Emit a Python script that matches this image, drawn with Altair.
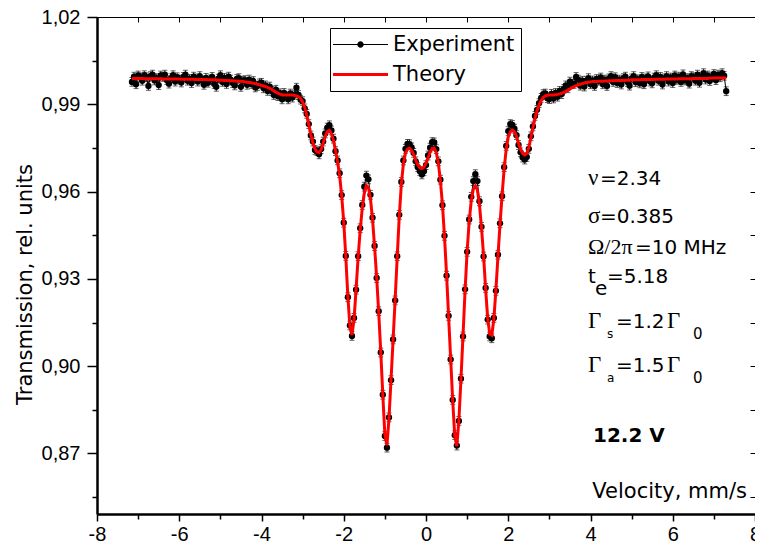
import altair as alt
import pandas as pd

# ---------------- data ----------------
VELOCITY = [
    -7.15, -7.10, -7.05, -7.00, -6.95, -6.90, -6.85, -6.80, -6.75, -6.70,
    -6.65, -6.60, -6.55, -6.50, -6.45, -6.40, -6.35, -6.30, -6.25, -6.20,
    -6.15, -6.10, -6.05, -6.00, -5.95, -5.90, -5.85, -5.80, -5.75, -5.70,
    -5.65, -5.60, -5.55, -5.50, -5.45, -5.40, -5.35, -5.30, -5.25, -5.20,
    -5.15, -5.10, -5.05, -5.00, -4.95, -4.90, -4.85, -4.80, -4.75, -4.70,
    -4.65, -4.60, -4.55, -4.50, -4.45, -4.40, -4.35, -4.30, -4.25, -4.20,
    -4.15, -4.10, -4.05, -4.00, -3.95, -3.90, -3.85, -3.80, -3.75, -3.70,
    -3.65, -3.60, -3.55, -3.50, -3.45, -3.40, -3.35, -3.30, -3.25, -3.20,
    -3.15, -3.10, -3.05, -3.00, -2.95, -2.90, -2.85, -2.80, -2.75, -2.70,
    -2.65, -2.60, -2.55, -2.50, -2.45, -2.40, -2.35, -2.30, -2.25, -2.20,
    -2.15, -2.10, -2.05, -2.00, -1.95, -1.90, -1.85, -1.80, -1.75, -1.70,
    -1.65, -1.60, -1.55, -1.50, -1.45, -1.40, -1.35, -1.30, -1.25, -1.20,
    -1.15, -1.10, -1.05, -1.00, -0.95, -0.90, -0.85, -0.80, -0.75, -0.70,
    -0.65, -0.60, -0.55, -0.50, -0.45, -0.40, -0.35, -0.30, -0.25, -0.20,
    -0.15, -0.10, -0.05, 0.00, 0.05, 0.10, 0.15, 0.20, 0.25, 0.30,
    0.35, 0.40, 0.45, 0.50, 0.55, 0.60, 0.65, 0.70, 0.75, 0.80,
    0.85, 0.90, 0.95, 1.00, 1.05, 1.10, 1.15, 1.20, 1.25, 1.30,
    1.35, 1.40, 1.45, 1.50, 1.55, 1.60, 1.65, 1.70, 1.75, 1.80,
    1.85, 1.90, 1.95, 2.00, 2.05, 2.10, 2.15, 2.20, 2.25, 2.30,
    2.35, 2.40, 2.45, 2.50, 2.55, 2.60, 2.65, 2.70, 2.75, 2.80,
    2.85, 2.90, 2.95, 3.00, 3.05, 3.10, 3.15, 3.20, 3.25, 3.30,
    3.35, 3.40, 3.45, 3.50, 3.55, 3.60, 3.65, 3.70, 3.75, 3.80,
    3.85, 3.90, 3.95, 4.00, 4.05, 4.10, 4.15, 4.20, 4.25, 4.30,
    4.35, 4.40, 4.45, 4.50, 4.55, 4.60, 4.65, 4.70, 4.75, 4.80,
    4.85, 4.90, 4.95, 5.00, 5.05, 5.10, 5.15, 5.20, 5.25, 5.30,
    5.35, 5.40, 5.45, 5.50, 5.55, 5.60, 5.65, 5.70, 5.75, 5.80,
    5.85, 5.90, 5.95, 6.00, 6.05, 6.10, 6.15, 6.20, 6.25, 6.30,
    6.35, 6.40, 6.45, 6.50, 6.55, 6.60, 6.65, 6.70, 6.75, 6.80,
    6.85, 6.90, 6.95, 7.00, 7.05, 7.10, 7.15, 7.20, 7.25, 7.30,
]

THEORY = [
    .9989, .9989, .9989, .9989, .9989, .9989, .9988, .9988, .9988, .9988,
    .9988, .9988, .9988, .9988, .9988, .9987, .9987, .9987, .9987, .9987,
    .9987, .9987, .9987, .9987, .9986, .9986, .9986, .9986, .9986, .9986,
    .9986, .9985, .9985, .9985, .9985, .9985, .9985, .9984, .9984, .9984,
    .9984, .9984, .9983, .9983, .9983, .9982, .9982, .9982, .9981, .9981,
    .9980, .9980, .9979, .9979, .9978, .9977, .9976, .9975, .9974, .9972,
    .9971, .9969, .9967, .9965, .9963, .9961, .9958, .9955, .9951, .9946,
    .9942, .9938, .9935, .9933, .9932, .9932, .9932, .9932, .9932, .9931,
    .9929, .9926, .9920, .9908, .9890, .9862, .9830, .9796, .9768, .9748,
    .9736, .9734, .9744, .9766, .9790, .9806, .9810, .9800, .9776, .9742,
    .9702, .9655, .9585, .9495, .9375, .9240, .9135, .9108, .9160, .9265,
    .9375, .9468, .9542, .9595, .9620, .9614, .9575, .9505, .9410, .9305,
    .9185, .9050, .8900, .8765, .8728, .8820, .8955, .9090, .9230, .9375,
    .9515, .9625, .9695, .9732, .9746, .9749, .9742, .9727, .9708, .9692,
    .9682, .9679, .9684, .9697, .9716, .9735, .9748, .9749, .9734, .9698,
    .9638, .9555, .9445, .9315, .9170, .9025, .8880, .8760, .8725, .8815,
    .8955, .9105, .9260, .9395, .9498, .9568, .9608, .9620, .9606, .9555,
    .9475, .9380, .9265, .9165, .9110, .9106, .9162, .9262, .9378, .9488,
    .9588, .9678, .9745, .9788, .9806, .9811, .9806, .9790, .9766, .9745,
    .9731, .9726, .9731, .9752, .9784, .9820, .9852, .9878, .9898, .9913,
    .9923, .9929, .9931, .9932, .9932, .9932, .9933, .9934, .9936, .9938,
    .9941, .9945, .9949, .9953, .9957, .9961, .9964, .9967, .9969, .9971,
    .9973, .9975, .9976, .9977, .9978, .9978, .9978, .9979, .9979, .9979,
    .9980, .9980, .9981, .9981, .9981, .9982, .9982, .9982, .9982, .9983,
    .9983, .9983, .9983, .9984, .9984, .9984, .9984, .9984, .9985, .9985,
    .9985, .9985, .9985, .9985, .9986, .9986, .9986, .9986, .9986, .9986,
    .9987, .9987, .9987, .9987, .9987, .9987, .9988, .9988, .9988, .9988,
    .9988, .9988, .9988, .9989, .9989, .9989, .9989, .9989, .9989, .9989,
    .9989, .9990, .9990, .9990, .9990, .9990, .9990, .9990, .9990, .9990,
]

EXPERIMENT = [
    .9977, .9995, .9969, .9999, .9993, .9981, 1.0000, .9993, .9963, .9997,
    1.0002, .9982, .9990, .9966, .9999, .9994, 1.0002, .9983, .9971, .9990,
    1.0000, .9978, .9993, .9985, .9975, .9994, 1.0002, .9981, .9987, .9973,
    .9995, .9989, .9978, .9997, .9982, .9967, .9991, .9974, .9986, .9994,
    .9970, .9960, .9988, 1.0000, .9977, .9991, .9970, .9995, .9985, .9973,
    .9965, .9987, .9990, .9960, .9981, .9983, .9967, .9985, .9970, .9980,
    .9958, .9963, .9972, .9974, .9955, .9965, .9946, .9961, .9946, .9932,
    .9950, .9928, .9938, .9917, .9939, .9926, .9917, .9937, .9923, .9933,
    .9957, .9932, .9916, .9911, .9886, .9867, .9832, .9793, .9772, .9743,
    .9739, .9728, .9746, .9772, .9800, .9820, .9828, .9810, .9782, .9739,
    .9707, .9663, .9588, .9493, .9379, .9237, .9140, .9104, .9166, .9263,
    .9378, .9474, .9554, .9617, .9655, .9642, .9589, .9510, .9413, .9303,
    .9189, .9047, .8902, .8760, .8720, .8824, .8952, .9092, .9226, .9378,
    .9520, .9633, .9707, .9747, .9764, .9763, .9752, .9733, .9704, .9684,
    .9670, .9659, .9670, .9691, .9724, .9751, .9770, .9769, .9746, .9704,
    .9641, .9553, .9448, .9311, .9173, .9023, .8884, .8763, .8727, .8812,
    .8957, .9102, .9264, .9393, .9504, .9582, .9636, .9660, .9636, .9567,
    .9479, .9377, .9269, .9160, .9102, .9096, .9166, .9259, .9383, .9491,
    .9584, .9684, .9757, .9808, .9832, .9829, .9816, .9794, .9760, .9735,
    .9717, .9710, .9719, .9747, .9790, .9824, .9860, .9881, .9904, .9922,
    .9935, .9937, .9921, .9918, .9936, .9920, .9939, .9926, .9946, .9935,
    .9953, .9965, .9955, .9978, .9971, .9970, .9994, .9985, .9964, .9981,
    .9961, .9981, .9990, .9969, .9982, .9963, .9987, .9981, .9992, .9969,
    .9985, .9963, .9989, .9997, .9977, .9993, .9973, .9985, .9968, .9990,
    .9995, .9977, .9964, .9989, .9997, .9976, .9986, .9972, .9994, .9969,
    .9989, .9996, .9978, .9972, .9992, 1.0000, .9981, .9994, .9968, .9989,
    .9997, .9978, .9992, .9973, .9999, .9984, .9995, .9977, 1.0003, .9982,
    .9990, .9971, .9997, .9993, .9981, 1.0002, .9974, .9995, 1.0007, .9985,
    .9999, .9980, .9995, 1.0004, .9983, 1.0002, .9993, 1.0007, .9998, .9945,
]

ERROR = 0.0015
SERIES = ["Experiment", "Theory"]
SERIES_COLORS = ["#000000", "#ff0000"]
X_DOMAIN = [-8, 8]
Y_DOMAIN = [0.8492, 1.02]
X_TICKS = [-8, -7, -6, -5, -4, -3, -2, -1, 0, 1, 2, 3, 4, 5, 6, 7, 8]
Y_TICKS = [0.855, 0.87, 0.885, 0.90, 0.915, 0.93, 0.945, 0.96, 0.975, 0.99, 1.005, 1.02]

# ---------------- chart ----------------
df = pd.DataFrame({"v": VELOCITY, "theory": THEORY, "exp": EXPERIMENT})
df["lo"] = df["exp"] - ERROR
df["hi"] = df["exp"] + ERROR

W, H = 658, 497
SANS = "DejaVu Sans"
TICKFONT = "Liberation Sans"
SERIF = "Liberation Serif"

xs = alt.Scale(domain=X_DOMAIN, nice=False, zero=False)
ys = alt.Scale(domain=Y_DOMAIN, nice=False, zero=False)

Y_MAJOR = "abs(round(datum.value * 1000)) % 30 == 0"
X_MAJOR = "datum.value % 2 == 0"

bottom_axis = alt.Axis(
    values=X_TICKS, grid=False, title=None,
    labelExpr=f"{X_MAJOR} ? toString(datum.value) : ''",
    labelFont=TICKFONT, labelFontSize=20, labelColor="black", labelPadding=3,
    labelFlush=False, labelOverlap=False,
    tickSize={"condition": {"test": X_MAJOR, "value": 7}, "value": 5},
    tickColor="black", tickWidth=1.5, domainColor="black", domainWidth=2.5,
)
left_axis = alt.Axis(
    values=Y_TICKS, grid=False, title="Transmission, rel. units",
    labelExpr=f"{Y_MAJOR} ? replace(format(datum.value, '.2f'), '.', ',') : ''",
    labelFont=TICKFONT, labelFontSize=20, labelColor="black", labelPadding=7,
    labelFlush=False, labelOverlap=False,
    tickSize={"condition": {"test": Y_MAJOR, "value": 10}, "value": 5},
    tickColor="black", tickWidth=1.5, domainColor="black", domainWidth=2.5,
    titleFont=SANS, titleFontSize=21, titleFontWeight="normal", titleColor="black",
    titleX=-66, titleY=267, titleAngle=270, titleBaseline="alphabetic", titleAlign="center",
)
top_axis = alt.Axis(
    orient="top", values=X_TICKS, grid=False, title=None, labels=False,
    tickSize={"expr": "-5"}, tickColor="black", tickWidth=1,
    domainColor="black", domainWidth=1,
)
right_axis = alt.Axis(
    orient="right", values=Y_TICKS, grid=False, title=None, labels=False,
    tickSize={"expr": "-5"}, tickColor="black", tickWidth=1,
    domainColor="black", domainWidth=1,
)

base = alt.Chart(df)
X = alt.X("v:Q", scale=xs, axis=None)

bars = base.mark_rule(color="#222222", strokeWidth=1).encode(
    x=X, y=alt.Y("lo:Q", scale=ys, axis=None), y2="hi:Q")
caps_lo = base.mark_tick(color="#222222", orient="horizontal", size=5, thickness=1).encode(
    x=X, y=alt.Y("lo:Q", scale=ys, axis=None))
caps_hi = base.mark_tick(color="#222222", orient="horizontal", size=5, thickness=1).encode(
    x=X, y=alt.Y("hi:Q", scale=ys, axis=None))
exp_line = base.mark_line(color="black", strokeWidth=1).encode(
    x=X, y=alt.Y("exp:Q", scale=ys, axis=None))
exp_pts = base.mark_circle(color="black", size=40, opacity=1).encode(
    x=X, y=alt.Y("exp:Q", scale=ys, axis=None))
theory = base.mark_line(color="#ff0000", strokeWidth=3).encode(
    x=alt.X("v:Q", scale=xs, axis=bottom_axis),
    y=alt.Y("theory:Q", scale=ys, axis=left_axis))
frame = base.mark_point(opacity=0).encode(
    x=alt.X("v:Q", scale=xs, axis=top_axis),
    y=alt.Y("theory:Q", scale=ys, axis=right_axis))

# legend (native legend, custom symbols: line+dot, thick line)
EXP_SYMBOL = ("M-2.75,-0.06H2.75V0.06H-2.75Z"
              "M0.32,0A0.32,0.32,0,1,1,-0.32,0A0.32,0.32,0,1,1,0.32,0Z")
THEORY_SYMBOL = "M-2.75,-0.15H2.75V0.15H-2.75Z"
legend = alt.Legend(
    title=None, orient="none", legendX=233, legendY=11,
    strokeColor="black", fillColor="white", padding=6,
    symbolSize=400, symbolOffset=14, symbolStrokeWidth=0,
    labelOffset=22, labelFont=SANS, labelFontSize=21, labelColor="black",
    rowPadding=8,
)
leg_layer = alt.Chart(pd.DataFrame({"series": SERIES})).mark_point(
    filled=True, opacity=1, size=400, clip=True).encode(
    x=alt.value(-300), y=alt.value(-300),
    color=alt.Color("series:N", scale=alt.Scale(domain=SERIES, range=SERIES_COLORS), legend=legend),
    shape=alt.Shape("series:N", scale=alt.Scale(domain=SERIES, range=[EXP_SYMBOL, THEORY_SYMBOL]),
                    legend=legend),
)


def txt(s, x, y, size=20, font=SANS, weight="normal", align="left"):
    return alt.Chart(pd.DataFrame({"label": [s]})).mark_text(
        align=align, baseline="alphabetic", font=font, fontSize=size,
        fontWeight=weight, color="black").encode(
        text="label:N", x=alt.value(x), y=alt.value(y))


texts = [
    txt("ν", 491, 168, 23, SERIF), txt("=2.34", 503, 168),
    txt("σ", 491, 206, 23, SERIF), txt("=0.385", 503, 206),
    txt("Ω/2π", 491, 237, 22, SERIF), txt("=10 MHz", 538, 237),
    txt("t", 491, 266), txt("e", 498, 278), txt("=5.18", 510, 266),
    txt("Γ", 491, 311, 23, SERIF), txt("s", 510, 321, 12), txt("=1.2", 519, 311),
    txt("Γ", 570, 311, 23, SERIF), txt("0", 596, 322, 15),
    txt("Γ", 491, 355, 23, SERIF), txt("a", 510, 365, 12), txt("=1.5", 519, 355),
    txt("Γ", 570, 355, 23, SERIF), txt("0", 596, 366, 15),
    txt("12.2 V", 496, 425, 20, SANS, "bold"),
    txt("Velocity, mm/s", 650, 481, 21, SANS, "normal", "right"),
]

chart = alt.layer(
    bars, caps_lo, caps_hi, exp_line, exp_pts, theory, frame, leg_layer, *texts
).resolve_axis(x="independent", y="independent").properties(
    width=W, height=H,
    padding={"left": 89, "top": 9, "right": 0, "bottom": 32},
    autosize=alt.AutoSizeParams(type="none"),
).configure_view(stroke=None).configure(background="white")

chart.save("out.html", embed_options={"renderer": "svg", "actions": False})
